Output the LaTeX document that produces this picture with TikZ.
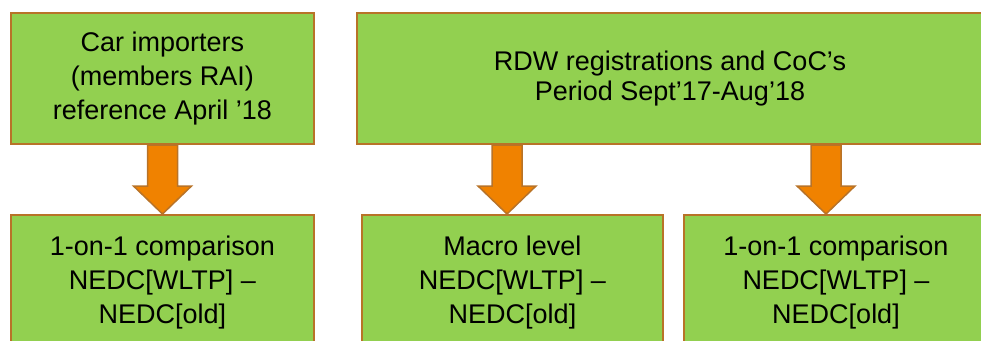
\documentclass[tikz,border=0pt]{standalone}
\usepackage{fontspec}
\setmainfont{Liberation Sans}
\usetikzlibrary{calc}
\definecolor{boxgreen}{RGB}{146,208,80}
\definecolor{boxedge}{RGB}{184,115,40}
\definecolor{arrorange}{RGB}{240,130,0}

\tikzset{
  greenbox/.style={draw=boxedge, line width=2pt, fill=boxgreen, align=center, inner sep=0pt,
    font=\fontsize{27}{34}\selectfont},
  fatarr/.style={draw=boxedge, line width=1.5pt, fill=arrorange, line join=miter}
}

% block arrow: top node, bottom node, x shift
\newcommand{\fatarrow}[3]{%
  \draw[fatarr] let \p1=($(#2.north)+(#3,0)$), \p2=(#1.south) in
    (\x1-15pt,\y2) -- (\x1+15pt,\y2) -- (\x1+15pt,\y1+28pt) -- (\x1+29pt,\y1+28pt)
    -- (\x1,\y1) -- (\x1-29pt,\y1+28pt) -- (\x1-15pt,\y1+28pt) -- cycle;}

\begin{document}
\begin{tikzpicture}[x=1pt, y=-1pt]
  \useasboundingbox (0,0) rectangle (981,340);
  \clip (0,0) rectangle (981,340);

  % Sources
  \node[greenbox, minimum width=303pt, minimum height=131pt] (importers) at (162.5,78.5)
    {Car importers\\(members RAI)\\reference April '18};
  \node[greenbox, minimum width=626pt, minimum height=131pt,
        font=\fontsize{27}{30}\selectfont] (rdw) at (670,78.5)
    {RDW registrations and CoC's\\Period Sept'17-Aug'18};

  % Comparisons
  \node[greenbox, minimum width=303pt, minimum height=136pt] (cmpA) at (162.5,283)
    {1-on-1 comparison\\NEDC[WLTP] --\\NEDC[old]};
  \node[greenbox, minimum width=301pt, minimum height=136pt] (cmpB) at (512.5,283)
    {Macro level\\NEDC[WLTP] --\\NEDC[old]};
  \node[greenbox, minimum width=304pt, minimum height=136pt] (cmpC) at (836,283)
    {1-on-1 comparison\\NEDC[WLTP] --\\NEDC[old]};

  % Arrows
  \fatarrow{importers}{cmpA}{0}
  \fatarrow{rdw}{cmpB}{-5.5}
  \fatarrow{rdw}{cmpC}{-10}
\end{tikzpicture}
\end{document}
